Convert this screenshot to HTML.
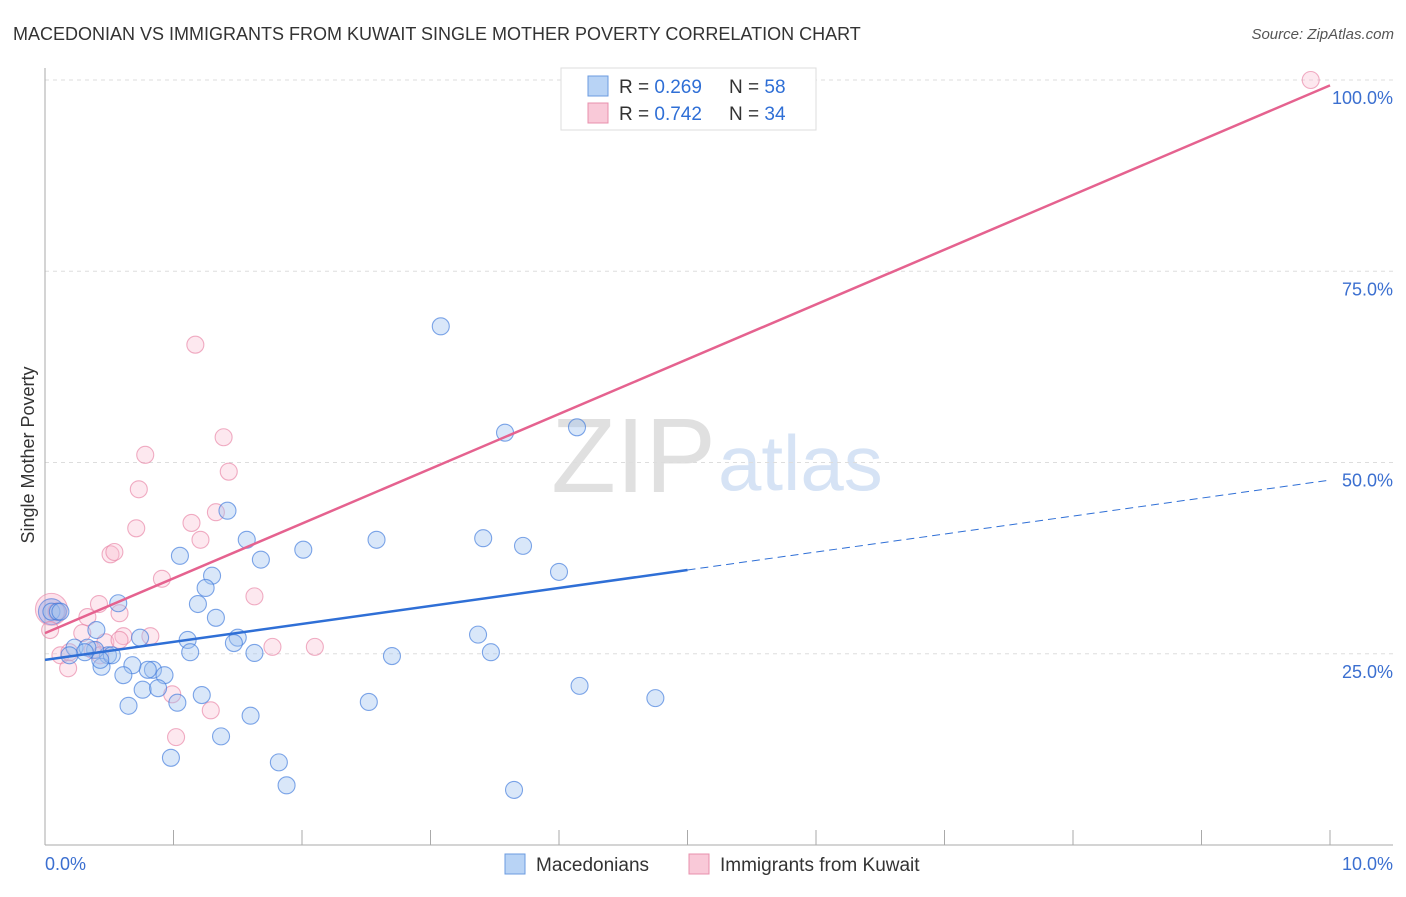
<!DOCTYPE html>
<html><head><meta charset="utf-8"><style>
body{margin:0;background:#fff;font-family:"Liberation Sans",sans-serif;}
svg text{font-family:"Liberation Sans",sans-serif;}
</style></head><body>
<svg id="chart" width="1406" height="892" xmlns="http://www.w3.org/2000/svg">
<text x="13" y="40" font-size="18" fill="#333">MACEDONIAN VS IMMIGRANTS FROM KUWAIT SINGLE MOTHER POVERTY CORRELATION CHART</text>
<text x="1394" y="39" font-size="15" fill="#555" font-style="italic" text-anchor="end">Source: ZipAtlas.com</text>
<text x="716" y="492" font-size="106" fill="#e0e0e0" text-anchor="end" font-family="Liberation Serif">ZIP</text>
<text x="718" y="490" font-size="78" fill="#d6e3f5">atlas</text>
<g id="grid"></g>
<g id="axes"></g>
<g id="marks"></g>
<text transform="translate(34,455) rotate(-90)" font-size="18" fill="#333" text-anchor="middle">Single Mother Poverty</text>
<g>
<rect x="561" y="68" width="255" height="62" fill="#fff" stroke="#ddd"/>
<rect x="588" y="76" width="20" height="20" fill="#b8d3f5" stroke="#6b9be0"/>
<rect x="588" y="103" width="20" height="20" fill="#f9c9d8" stroke="#e890ad"/>
<text x="619" y="93" font-size="19" fill="#333">R = <tspan fill="#2f6fd6">0.269</tspan></text>
<text x="729" y="93" font-size="19" fill="#333">N = <tspan fill="#2f6fd6">58</tspan></text>
<text x="619" y="120" font-size="19" fill="#333">R = <tspan fill="#2f6fd6">0.742</tspan></text>
<text x="729" y="120" font-size="19" fill="#333">N = <tspan fill="#2f6fd6">34</tspan></text>
</g>
<g>
<rect x="505" y="854" width="20" height="20" fill="#b8d3f5" stroke="#6b9be0"/>
<text x="536" y="871" font-size="19" fill="#333">Macedonians</text>
<rect x="689" y="854" width="20" height="20" fill="#f9c9d8" stroke="#e890ad"/>
<text x="720" y="871" font-size="19" fill="#333">Immigrants from Kuwait</text>
</g>
</svg>
<script>
const blueX=[0.05,0.10,0.40,0.57,0.74,1.05,1.30,1.25,1.19,1.33,1.11,1.13,1.42,1.57,1.68,1.50,1.47,1.63,0.84,0.93,0.80,0.68,0.61,0.49,0.44,0.52,0.39,0.23,0.33,0.65,0.76,0.88,1.03,1.22,1.37,1.60,0.98,1.82,1.88,2.01,2.58,2.70,2.52,3.08,3.58,4.14,3.41,3.72,4.00,3.37,3.47,4.16,4.75,3.65,0.31,0.19,0.12,0.43];
const blueY=[30.5,30.5,28.1,31.6,27.1,37.8,35.2,33.6,31.5,29.7,26.8,25.2,43.7,39.9,37.3,27.1,26.4,25.1,22.9,22.2,22.9,23.5,22.2,24.8,23.3,24.8,25.5,25.8,25.8,18.2,20.3,20.5,18.6,19.6,14.2,16.9,11.4,10.8,7.8,38.6,39.9,24.7,18.7,67.8,53.9,54.6,40.1,39.1,35.7,27.5,25.2,20.8,19.2,7.2,25.2,24.8,30.5,24.2];
const pinkX=[9.85,1.17,1.39,0.78,1.43,0.73,0.71,1.14,1.33,1.21,0.51,0.54,0.91,1.63,0.42,0.33,0.58,0.09,0.61,0.82,0.47,0.29,0.58,1.77,2.10,0.12,0.18,0.19,0.37,0.43,0.99,1.29,1.02,0.04];
const pinkY=[100,65.4,53.3,51.0,48.8,46.5,41.4,42.1,43.5,39.9,38.0,38.3,34.8,32.5,31.5,29.8,30.3,30.5,27.3,27.3,26.5,27.7,26.8,25.9,25.9,24.8,23.1,25.2,25.5,24.8,19.7,17.6,14.1,28.1];
const yTicks=[25,50,75,100];
const yTickLabels=["25.0%","50.0%","75.0%","100.0%"];
const blueTrend=[24.2,47.7];
const pinkTrend=[27.7,99.3];
const blueSolidEnd=5.0;
const NS="http://www.w3.org/2000/svg";
const xS=v=>45+v*128.5, yS=v=>845-v*7.65;
function el(t,a,p){const e=document.createElementNS(NS,t);for(const k in a)e.setAttribute(k,a[k]);p.appendChild(e);return e;}
const grid=document.getElementById('grid'),axes=document.getElementById('axes'),marks=document.getElementById('marks');
yTicks.forEach((t,i)=>{
 const g=el('line',{x1:45,x2:1393,y1:yS(t),y2:yS(t),stroke:'#ddd','stroke-dasharray':'4,4'},grid);
 
 
 const tx=el('text',{x:1393,y:yS(t)+24,'font-size':18,fill:'#3b6fd0','text-anchor':'end'},axes);
 tx.textContent=yTickLabels[i];
 
 
});
let a=el('line',{x1:45,x2:45,y1:68,y2:845,stroke:'#aaa'},axes);


a=el('line',{x1:45,x2:1393,y1:845,y2:845,stroke:'#aaa'},axes);


for(let i=1;i<=10;i++){const t=el('line',{x1:xS(i),x2:xS(i),y1:830,y2:845,stroke:'#aaa'},axes);
 
 }
let l=el('text',{x:45,y:870,'font-size':18,fill:'#3b6fd0'},axes);l.textContent='0.0%';


l=el('text',{x:1393,y:870,'font-size':18,fill:'#3b6fd0','text-anchor':'end'},axes);l.textContent='10.0%';


function pt(x,y,r,fill,stroke,name){const c=el('circle',{cx:xS(x),cy:yS(y),r:r,fill:fill,stroke:stroke,'stroke-width':1.1},marks);
 
 }
pt(0.05,30.8,16,'rgba(249,180,205,0.4)','rgba(232,130,165,0.6)','pink-point');
pt(0.05,30.5,13,'rgba(130,160,230,0.4)','rgba(70,120,220,0.6)','blue-point');
pinkX.forEach((x,i)=>pt(x,pinkY[i],8.5,'rgba(249,190,210,0.35)','rgba(232,130,165,0.65)','pink-point'));
blueX.forEach((x,i)=>pt(x,blueY[i],8.5,'rgba(160,195,240,0.4)','rgba(60,120,220,0.65)','blue-point'));
const bAt=x=>blueTrend[0]+(blueTrend[1]-blueTrend[0])*x/10;
let t=el('line',{x1:xS(0),y1:yS(bAt(0)),x2:xS(blueSolidEnd),y2:yS(bAt(blueSolidEnd)),stroke:'#2f6fd6','stroke-width':2.5},marks);


t=el('line',{x1:xS(blueSolidEnd),y1:yS(bAt(blueSolidEnd)),x2:xS(10),y2:yS(bAt(10)),stroke:'#2f6fd6','stroke-width':1,'stroke-dasharray':'8,5'},marks);


t=el('line',{x1:xS(0),y1:yS(pinkTrend[0]),x2:xS(10),y2:yS(pinkTrend[1]),stroke:'#e5628f','stroke-width':2.5},marks);


</script>
</body></html>
